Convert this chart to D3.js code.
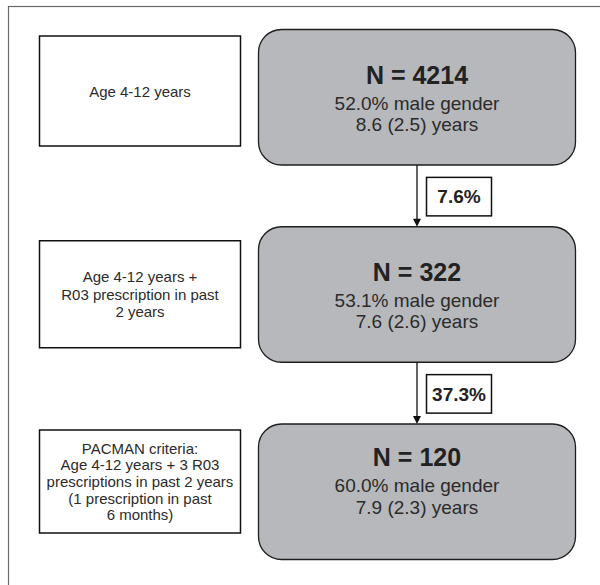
<!DOCTYPE html>
<html>
<head>
<meta charset="utf-8">
<script src="https://cdn.jsdelivr.net/npm/d3@7"></script>
<style>
  body { margin: 0; background: #fff; }
  svg { display: block; }
</style>
</head>
<body>
<div id="chart"></div>
<script>
// flow chart data
var criteria = [
  ["Age 4-12 years"],
  ["Age 4-12 years +", "R03 prescription in past", "2 years"],
  ["PACMAN criteria:", "Age 4-12 years + 3 R03", "prescriptions in past 2 years", "(1 prescription in past", "6 months)"]
];
var counts = [4214, 322, 120];
var malePct = ["52.0", "53.1", "60.0"];
var ageMean = ["8.6", "7.6", "7.9"];
var ageSd = ["2.5", "2.6", "2.3"];
var retained = ["7.6%", "37.3%"];

var width = 600, height = 585;
var font = "Liberation Sans, Arial, Helvetica, sans-serif";
var ink = "#2b2b2b";

// rows -> top of grey boxes
var y = d3.scaleLinear().domain([0, 2]).range([29.5, 424]);
var boxH = 135.5;
var greyX = 258.5, greyW = 317;
var leftX = 39.5, leftW = 201;
// left box layout per row (top offset from row, height), text shift of grey box
var leftTop = [6.5, 14, 6];
var leftH = [110, 107, 103];
var greyShift = [0, 0, -12];

var svg = d3.select("#chart")
  .append("svg")
  .attr("width", width)
  .attr("height", height);

// outer frame, runs off the page at right and bottom
svg.append("rect")
  .attr("x", 8.5)
  .attr("y", 6.5)
  .attr("width", 640)
  .attr("height", 640)
  .style("fill", "none")
  .style("stroke", "#6a6a6a")
  .style("stroke-width", 1.2);

var rows = svg.selectAll("g.row")
  .data(counts)
  .enter()
  .append("g")
  .attr("class", "row");

// left criteria boxes
rows.append("rect")
  .attr("x", leftX)
  .attr("y", function(d, i) { return y(i) + leftTop[i]; })
  .attr("width", leftW)
  .attr("height", function(d, i) { return leftH[i]; })
  .style("fill", "white")
  .style("stroke", "#111")
  .style("stroke-width", 1.5);

rows.each(function(d, i) {
  var lines = criteria[i];
  var cy = y(i) + leftTop[i] + leftH[i] / 2;
  var lh = lines.length > 3 ? 16.7 : 17.5;
  var first = cy + 5.5 - (lines.length - 1) / 2 * lh;
  d3.select(this).selectAll("text.crit")
    .data(lines)
    .enter()
    .append("text")
    .attr("class", "crit")
    .attr("x", leftX + leftW / 2)
    .attr("y", function(t, k) { return first + k * lh; })
    .style("font-family", font)
    .style("font-size", "15px")
    .style("text-anchor", "middle")
    .style("fill", ink)
    .text(function(t) { return t; });
});

// grey result boxes
rows.append("rect")
  .attr("x", greyX)
  .attr("y", function(d, i) { return y(i); })
  .attr("width", greyW)
  .attr("height", boxH)
  .attr("rx", 23)
  .attr("ry", 23)
  .style("fill", "#b7b8bb")
  .style("stroke", "#1e1e1e")
  .style("stroke-width", 1.3);

var cx = greyX + greyW / 2;

rows.append("text")
  .attr("x", cx)
  .attr("y", function(d, i) { return y(i) + 54 + greyShift[i]; })
  .style("font-family", font)
  .style("font-size", "25px")
  .style("font-weight", "bold")
  .style("text-anchor", "middle")
  .style("fill", "#222")
  .text(function(d) { return "N = " + d; });

rows.append("text")
  .attr("x", cx)
  .attr("y", function(d, i) { return y(i) + 80 + greyShift[i]; })
  .style("font-family", font)
  .style("font-size", "19px")
  .style("text-anchor", "middle")
  .style("fill", ink)
  .text(function(d, i) { return malePct[i] + "% male gender"; });

rows.append("text")
  .attr("x", cx)
  .attr("y", function(d, i) { return y(i) + 101.7 + greyShift[i]; })
  .style("font-family", font)
  .style("font-size", "19px")
  .style("text-anchor", "middle")
  .style("fill", ink)
  .text(function(d, i) { return ageMean[i] + " (" + ageSd[i] + ") years"; });

// arrows between rows with percentage boxes
var arrowX = 417;
var links = svg.selectAll("g.link")
  .data(retained)
  .enter()
  .append("g")
  .attr("class", "link");

links.append("line")
  .attr("x1", arrowX)
  .attr("x2", arrowX)
  .attr("y1", function(d, i) { return y(i) + boxH; })
  .attr("y2", function(d, i) { return y(i + 1) - 6; })
  .style("stroke", "#111")
  .style("stroke-width", 1.3);

links.append("path")
  .attr("d", function(d, i) {
    var t = y(i + 1);
    return "M" + (arrowX - 4) + "," + (t - 8) + "L" + (arrowX + 4) + "," + (t - 8) + "L" + arrowX + "," + t + "Z";
  })
  .style("fill", "#111");

links.append("rect")
  .attr("x", 426.5)
  .attr("y", function(d, i) { return (y(i) + boxH + y(i + 1)) / 2 - 18.5; })
  .attr("width", 65)
  .attr("height", 38.5)
  .style("fill", "white")
  .style("stroke", "#111")
  .style("stroke-width", 1.5);

links.append("text")
  .attr("x", 459)
  .attr("y", function(d, i) { return (y(i) + boxH + y(i + 1)) / 2 + 7.5; })
  .style("font-family", font)
  .style("font-size", "19px")
  .style("font-weight", "bold")
  .style("text-anchor", "middle")
  .style("fill", "#222")
  .text(function(d) { return d; });
</script>
</body>
</html>
